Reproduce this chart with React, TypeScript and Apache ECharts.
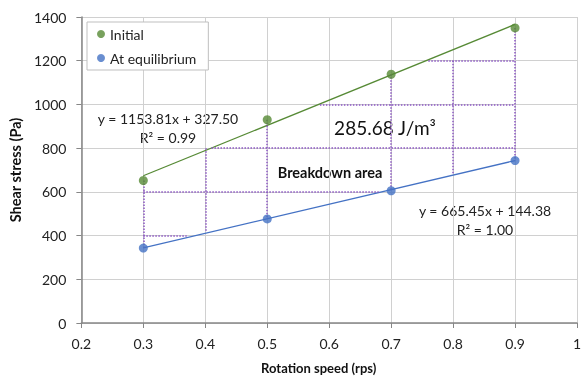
import React, { useEffect, useRef } from "react";
import * as echarts from "echarts";

const speeds = [0.3, 0.5, 0.7, 0.9];
const initialStress = [652, 930, 1138, 1350];
const equilibriumStress = [343, 476, 605, 743];

const trendInitial = { slope: 1153.81, intercept: 327.5 };
const trendEquilibrium = { slope: 665.45, intercept: 144.38 };

const xTicks = [0.2, 0.3, 0.4, 0.5, 0.6, 0.7, 0.8, 0.9, 1];
const yTicks = [0, 200, 400, 600, 800, 1000, 1200, 1400];

// breakdown-area dotted grid segments [[x1,y1],[x2,y2]]
const breakdownSegments: number[][][] = [
  [[0.3, 652], [0.3, 343]],
  [[0.4, 800], [0.4, 420]],
  [[0.5, 930], [0.5, 476]],
  [[0.7, 1138], [0.7, 605]],
  [[0.8, 1200], [0.8, 680]],
  [[0.9, 1350], [0.9, 743]],
  [[0.3, 400], [0.37, 400]],
  [[0.3, 600], [0.68, 600]],
  [[0.41, 800], [0.9, 800]],
  [[0.585, 1000], [0.9, 1000]],
  [[0.76, 1200], [0.9, 1200]],
];

const FONT = "Lato";

export default function App() {
  const ref = useRef<HTMLDivElement>(null);
  useEffect(() => {
    if (!ref.current) return;
    const chart = echarts.init(ref.current, undefined, { renderer: "svg" });
    const x0 = speeds[0];
    const x1 = speeds[speeds.length - 1];
    const line = (t: { slope: number; intercept: number }) => [
      [x0, t.slope * x0 + t.intercept],
      [x1, t.slope * x1 + t.intercept],
    ];
    const green = "#568A35";
    const blue = "#4472C4";
    chart.setOption({
      animation: false,
      textStyle: { fontFamily: FONT },
      grid: { left: 81, right: 9, top: 17, bottom: 53 },
      legend: {
        orient: "vertical",
        left: 87,
        top: 22,
        padding: [5, 12, 5, 10],
        itemGap: 10,
        itemWidth: 8,
        itemHeight: 8,
        backgroundColor: "#ffffff",
        borderColor: "#bfbfbf",
        borderWidth: 1,
        textStyle: { fontFamily: FONT, fontSize: 14, color: "#222" },
        data: [
          { name: "Initial", icon: "circle" },
          { name: "At equilibrium", icon: "circle" },
        ],
      },
      xAxis: {
        type: "value",
        min: xTicks[0],
        max: xTicks[xTicks.length - 1],
        interval: 0.1,
        name: "Rotation speed (rps)",
        nameLocation: "middle",
        nameGap: 38,
        nameTextStyle: { fontFamily: FONT, fontSize: 13, fontWeight: "bold", color: "#111", padding: [0, 21, 0, 0] },
        axisLine: { lineStyle: { color: "#868686", width: 1.5 } },
        axisTick: { show: true, length: 5, lineStyle: { color: "#868686" } },
        axisLabel: {
          fontFamily: FONT,
          fontSize: 14,
          color: "#222",
          margin: 13,
          showMaxLabel: true,
          formatter: (v: number) => String(Number(v.toFixed(1))),
        },
        splitLine: { show: true, lineStyle: { color: "#d0d0d0", width: 1 } },
      },
      yAxis: {
        type: "value",
        min: yTicks[0],
        max: yTicks[yTicks.length - 1],
        interval: 200,
        name: "Shear stress (Pa)",
        nameLocation: "middle",
        nameGap: 48,
        nameTextStyle: { fontFamily: FONT, fontSize: 14.5, fontWeight: "bold", color: "#111" },
        axisLine: { show: true, lineStyle: { color: "#868686", width: 1.5 } },
        axisTick: { show: true, length: 5, lineStyle: { color: "#868686" } },
        axisLabel: { fontFamily: FONT, fontSize: 14, color: "#222", margin: 15, formatter: (v: number) => String(v) },
        splitLine: { show: true, lineStyle: { color: "#d0d0d0", width: 1 } },
      },
      series: [
        {
          type: "line",
          name: "breakdown",
          data: [],
          silent: true,
          markLine: {
            silent: true,
            symbol: ["none", "none"],
            label: { show: false },
            lineStyle: { color: "#8A55C2", type: "dotted", width: 1.5 },
            data: breakdownSegments.map((s) => [{ coord: s[0] }, { coord: s[1] }]),
          },
        },
        {
          type: "line",
          name: "trendInitial",
          data: line(trendInitial),
          symbol: "none",
          silent: true,
          lineStyle: { color: green, width: 1.3 },
        },
        {
          type: "line",
          name: "trendEquilibrium",
          data: line(trendEquilibrium),
          symbol: "none",
          silent: true,
          lineStyle: { color: blue, width: 1.3 },
        },
        {
          type: "scatter",
          name: "Initial",
          data: speeds.map((x, i) => [x, initialStress[i]]),
          symbolSize: 9,
          itemStyle: { color: green },
          z: 5,
        },
        {
          type: "scatter",
          name: "At equilibrium",
          data: speeds.map((x, i) => [x, equilibriumStress[i]]),
          symbolSize: 9,
          itemStyle: { color: blue },
          z: 5,
        },
      ],
      graphic: [
        { type: "text", x: 168, y: 118, style: { text: "y = 1153.81x + 327.50", font: `14px ${FONT}`, fill: "#222", align: "center", verticalAlign: "middle" } },
        { type: "text", x: 168, y: 137, style: { text: "R² = 0.99", font: `14px ${FONT}`, fill: "#222", align: "center", verticalAlign: "middle" } },
        { type: "text", x: 385, y: 127, style: { text: "285.68 J/m³", font: `19px ${FONT}`, fill: "#111", align: "center", verticalAlign: "middle" } },
        { type: "text", x: 330, y: 172, style: { text: "Breakdown area", font: `bold 14.5px ${FONT}`, fill: "#111", align: "center", verticalAlign: "middle" } },
        { type: "text", x: 485, y: 210, style: { text: "y = 665.45x + 144.38", font: `14px ${FONT}`, fill: "#222", align: "center", verticalAlign: "middle" } },
        { type: "text", x: 485, y: 229, style: { text: "R² = 1.00", font: `14px ${FONT}`, fill: "#222", align: "center", verticalAlign: "middle" } },
      ],
    });
    return () => chart.dispose();
  }, []);
  return <div ref={ref} style={{ position: "fixed", left: 0, top: 0, width: 586, height: 379 }} />;
}
